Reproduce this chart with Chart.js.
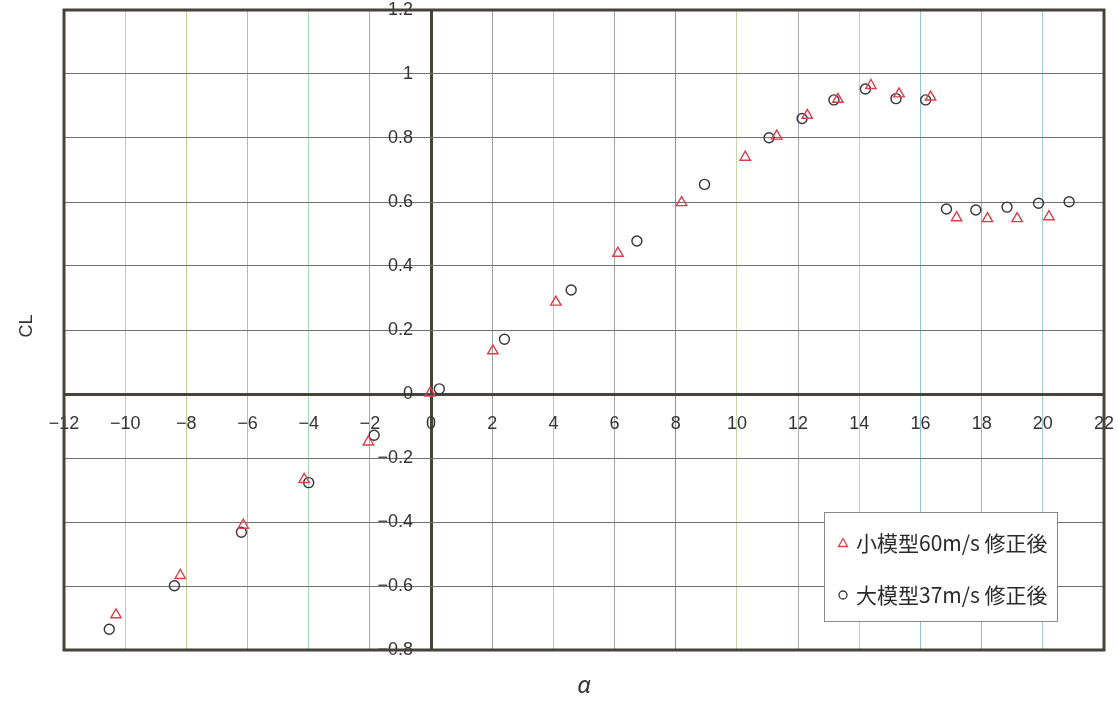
<!DOCTYPE html>
<html>
<head>
<meta charset="utf-8">
<script src="https://cdn.jsdelivr.net/npm/chart.js@4.4.0/dist/chart.umd.min.js"></script>
<style>
  html, body { margin: 0; background: #fff; }
  #wrap { width: 1118px; height: 703px; }
</style>
</head>
<body>
<div id="wrap"><canvas id="myChart"></canvas></div>
<script>
// 小模型60m/s 修正後 (triangles)
const smallAlpha = [-10.3, -8.2, -6.14, -4.15, -2.05, -0.03, 2.02, 4.08, 6.11, 8.19, 10.27, 11.3, 12.3, 13.3, 14.38, 15.3, 16.33, 17.18, 18.19, 19.16, 20.2];
const smallCL = [-0.69, -0.567, -0.41, -0.267, -0.15, 0.003, 0.135, 0.287, 0.44, 0.598, 0.74, 0.806, 0.871, 0.921, 0.964, 0.938, 0.928, 0.551, 0.548, 0.548, 0.554];

// 大模型37m/s 修正後 (circles)
const bigAlpha = [-10.52, -8.39, -6.2, -4.0, -1.86, 0.27, 2.4, 4.58, 6.73, 8.94, 11.05, 12.13, 13.17, 14.2, 15.2, 16.17, 16.85, 17.81, 18.83, 19.86, 20.86];
const bigCL = [-0.735, -0.599, -0.432, -0.277, -0.129, 0.016, 0.171, 0.325, 0.478, 0.655, 0.801, 0.861, 0.919, 0.953, 0.923, 0.919, 0.578, 0.575, 0.584, 0.596, 0.601];

const seriesLabels = ['小模型60m/s 修正後', '大模型37m/s 修正後'];

// axis ranges / tick steps
const xMin = -12, xMax = 22, xStep = 2;
const yMin = -0.8, yMax = 1.2, yStep = 0.2;

// tinted vertical grid lines like the scanned original
const xGridColors = {
  '-10': '#dcbcb4', '-8': '#c4d094', '-6': '#a8bad4', '-4': '#acd8b4', '-2': '#aaa6c8',
  '2': '#9c9c9c', '4': '#b4d0a0', '6': '#aca4a4', '8': '#909090', '10': '#c4d8ac',
  '12': '#aca8bc', '14': '#d0d0a0', '16': '#94c4d0', '18': '#b4a4c8', '20': '#a0d0c8'
};
const dark = '#47433a';

const toPoints = (xs, ys) => xs.map((x, i) => ({ x: x, y: ys[i] }));

const frame = {
  id: 'frame',
  beforeDatasetsDraw(chart) {
    const { ctx, chartArea: a } = chart;
    ctx.save();
    ctx.strokeStyle = dark;
    ctx.lineWidth = 3;
    ctx.strokeRect(a.left, a.top, a.right - a.left, a.bottom - a.top);
    ctx.restore();
  }
};

const titles = {
  id: 'titles',
  afterDraw(chart) {
    const { ctx, chartArea: a } = chart;
    ctx.save();
    ctx.fillStyle = '#333';
    ctx.textAlign = 'center';
    ctx.textBaseline = 'middle';
    ctx.font = 'italic 24px "Noto Sans"';
    ctx.fillText('α', (a.left + a.right) / 2, a.bottom + 36);
    ctx.translate(27, (a.top + a.bottom) / 2 - 4);
    ctx.rotate(-Math.PI / 2);
    ctx.font = '18px "Liberation Sans"';
    ctx.fillText('CL', 0, 0);
    ctx.restore();
  }
};

const legendBox = {
  id: 'legendBox',
  afterDraw(chart) {
    const { ctx, chartArea: a } = chart;
    const left = a.right - 280, top = a.bottom - 138, w = 233, h = 109;
    ctx.save();
    ctx.fillStyle = '#fff';
    ctx.fillRect(left, top, w, h);
    ctx.strokeStyle = '#8a8a8a';
    ctx.lineWidth = 1;
    ctx.strokeRect(left + 0.5, top + 0.5, w, h);
    ctx.font = '21px "Noto Sans CJK JP"';
    ctx.textBaseline = 'middle';
    ctx.textAlign = 'left';
    chart.data.datasets.forEach((ds, i) => {
      const cy = top + 31 + i * 52;
      const mx = left + 19;
      ctx.strokeStyle = ds.borderColor;
      ctx.lineWidth = 1.3;
      ctx.beginPath();
      if (ds.pointStyle === 'triangle') {
        ctx.moveTo(mx, cy - 4.5);
        ctx.lineTo(mx + 4.5, cy + 3.5);
        ctx.lineTo(mx - 4.5, cy + 3.5);
        ctx.closePath();
      } else {
        ctx.arc(mx, cy, 4, 0, Math.PI * 2);
      }
      ctx.stroke();
      ctx.fillStyle = '#2a2a2a';
      ctx.fillText(ds.label, left + 32, cy);
    });
    ctx.restore();
  }
};

const gridColor = (c, colors) => {
  if (!c.tick) return '#777';
  const v = Math.round(c.tick.value * 10) / 10;
  if (v === 0) return dark;
  return (colors && colors[String(v)]) || '#707070';
};
const gridWidth = c => (c.tick && Math.abs(c.tick.value) < 1e-9 ? 3 : 1);
const tickFont = { family: '"Liberation Sans", Arial, sans-serif', size: 18 };
const fmt = v => String(Math.round(v * 10) / 10).replace('-', '\u2212');
// the zero-positioned y axis draws labels flush to the line, so pad with en spaces
const fmtY = v => fmt(v) + '\u2002\u2002';
const noPadding = s => { s.paddingTop = s.paddingBottom = s.paddingLeft = s.paddingRight = 0; };

new Chart(document.getElementById('myChart').getContext('2d'), {
  type: 'scatter',
  data: {
    datasets: [
      {
        label: seriesLabels[0],
        data: toPoints(smallAlpha, smallCL),
        pointStyle: 'triangle',
        pointRadius: 6,
        borderColor: '#d9404c',
        backgroundColor: 'rgba(0,0,0,0)',
        borderWidth: 1.4,
      },
      {
        label: seriesLabels[1],
        data: toPoints(bigAlpha, bigCL),
        pointStyle: 'circle',
        pointRadius: 5,
        borderColor: '#34343c',
        backgroundColor: 'rgba(0,0,0,0)',
        borderWidth: 1.4,
      },
    ],
  },
  options: {
    responsive: true,
    maintainAspectRatio: false,
    animation: false,
    layout: { padding: { left: 64, top: 10, right: 14, bottom: 53 } },
    plugins: { legend: { display: false }, tooltip: { enabled: false } },
    scales: {
      x: {
        type: 'linear', position: 'bottom', min: xMin, max: xMax,
        ticks: { display: false, stepSize: xStep },
        grid: { color: c => gridColor(c, xGridColors), lineWidth: gridWidth, drawTicks: false },
        border: { display: false },
      },
      y: {
        type: 'linear', position: 'left', min: yMin, max: yMax,
        ticks: { display: false, stepSize: yStep },
        grid: { color: c => gridColor(c, null), lineWidth: gridWidth, drawTicks: false },
        border: { display: false },
      },
      xt: {
        type: 'linear', axis: 'x', position: { y: 0 }, min: xMin, max: xMax,
        ticks: { stepSize: xStep, padding: 19, font: tickFont, color: '#333', maxRotation: 0, autoSkip: false, callback: fmt },
        grid: { display: false, drawTicks: false },
        border: { display: false },
        afterFit: noPadding,
      },
      yt: {
        type: 'linear', axis: 'y', position: { x: 0 }, min: yMin, max: yMax,
        ticks: { stepSize: yStep, font: tickFont, color: '#333', autoSkip: false, callback: fmtY },
        grid: { display: false, drawTicks: false },
        border: { display: false },
        afterFit: noPadding,
      },
    },
  },
  plugins: [frame, titles, legendBox],
});
</script>
</body>
</html>
